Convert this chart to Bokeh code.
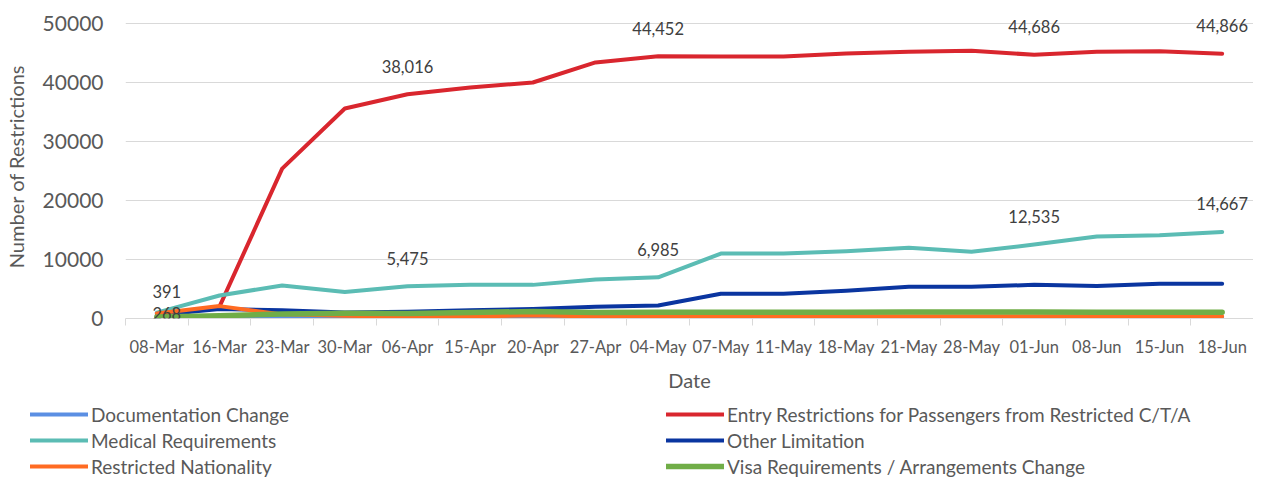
from bokeh.plotting import figure
from bokeh.layouts import column, row
from bokeh.models import Range1d, FixedTicker, Legend, LegendItem, ColumnDataSource, LabelSet, Label
from bokeh.core.properties import value
from bokeh.embed import file_html
from bokeh.resources import INLINE

dates = ["08-Mar", "16-Mar", "23-Mar", "30-Mar", "06-Apr", "15-Apr", "20-Apr", "27-Apr", "04-May",
         "07-May", "11-May", "18-May", "21-May", "28-May", "01-Jun", "08-Jun", "15-Jun", "18-Jun"]

documentation_change = [30, 60, 80, 80, 90, 90, 100, 100, 100, 100, 100, 100, 100, 100, 100, 100, 100, 100]
entry_restrictions = [391, 2000, 25400, 35600, 38016, 39150, 40000, 43400, 44452, 44400, 44400, 44900,
                      45200, 45400, 44686, 45200, 45300, 44866]
medical_requirements = [1000, 3900, 5600, 4500, 5475, 5700, 5700, 6600, 6985, 11000, 11000, 11400,
                        12000, 11300, 12535, 13900, 14100, 14667]
other_limitation = [600, 1600, 1400, 1000, 1150, 1400, 1600, 2000, 2200, 4200, 4200, 4700,
                    5400, 5400, 5700, 5500, 5900, 5900]
restricted_nationality = [850, 2100, 700, 450, 300, 350, 550, 350, 380, 380, 380, 380,
                          380, 380, 380, 380, 380, 380]
visa_requirements = [268, 450, 750, 900, 850, 1000, 1200, 1000, 1050, 1050, 1050, 1050,
                     1100, 1100, 1100, 1050, 1050, 1050]

series_names = ["Documentation Change", "Entry Restrictions for Passengers from Restricted C/T/A",
                "Medical Requirements", "Other Limitation", "Restricted Nationality",
                "Visa Requirements / Arrangements Change"]
series_values = [documentation_change, entry_restrictions, medical_requirements, other_limitation,
                 restricted_nationality, visa_requirements]
series_colors = ["#5B8FE3", "#D9262E", "#5BBCB4", "#0A35A0", "#FF6B22", "#70AD47"]
series_widths = [4, 4, 4, 4, 4, 5.5]

y_ticks = [0, 10000, 20000, 30000, 40000, 50000]

label_dates = [4, 8, 14, 17, 4, 8, 14, 17]
label_values = [38016, 44452, 44686, 44866, 5475, 6985, 12535, 14667]
label_texts = ["38,016", "44,452", "44,686", "44,866", "5,475", "6,985", "12,535", "14,667"]

FONT = "Lato"
GREY = "#595959"

x_idx = list(range(len(dates)))

p = figure(width=1253, height=396, x_range=Range1d(-0.5, len(dates) - 0.5), y_range=Range1d(0, 51525),
           output_backend="svg", toolbar_location=None,
           min_border_left=118, min_border_right=0, min_border_top=14, min_border_bottom=78)
p.outline_line_color = None
p.background_fill_color = "white"

for name, vals, col, w in zip(series_names, series_values, series_colors, series_widths):
    p.line(x_idx, vals, line_color=col, line_width=w, line_join="round", line_cap="round")

# x axis
xa = p.xaxis[0]
xa.ticker = FixedTicker(ticks=x_idx, minor_ticks=[i - 0.5 for i in range(len(dates) + 1)])
xa.major_label_overrides = {i: d for i, d in enumerate(dates)}
xa.axis_line_color = "#D9D9D9"
xa.major_tick_line_color = None
xa.major_tick_out = 0
xa.major_tick_in = 0
xa.minor_tick_line_color = "#D9D9D9"
xa.minor_tick_out = 7
xa.minor_tick_in = 0
xa.major_label_text_font = FONT
xa.major_label_text_font_size = "16.5px"
xa.major_label_text_color = GREY
xa.major_label_standoff = 11
xa.axis_label = "Date"
xa.axis_label_text_font = FONT
xa.axis_label_text_font_size = "20px"
xa.axis_label_text_font_style = "normal"
xa.axis_label_text_color = GREY
xa.axis_label_standoff = 8

ya = p.yaxis[0]
ya.ticker = FixedTicker(ticks=y_ticks)
ya.axis_line_color = None
ya.major_tick_line_color = None
ya.minor_tick_line_color = None
ya.major_tick_out = 0
ya.major_tick_in = 0
ya.major_label_text_font = FONT
ya.major_label_text_font_size = "21px"
ya.major_label_text_color = GREY
ya.major_label_standoff = 22
ya.axis_label = "Number of Restrictions"
ya.axis_label_text_font = FONT
ya.axis_label_text_font_size = "20px"
ya.axis_label_text_font_style = "normal"
ya.axis_label_text_color = GREY
ya.axis_label_standoff = 12

p.xgrid.grid_line_color = None
p.ygrid.grid_line_color = "#D9D9D9"
p.ygrid.grid_line_width = 1

src = ColumnDataSource(dict(x=label_dates, y=label_values, t=label_texts))
p.add_layout(LabelSet(x="x", y="y", text="t", source=src, y_offset=28, text_align="center",
                      text_baseline="middle", text_font=value(FONT), text_font_size=value("16.5px"),
                      text_color=value("#404040")))
p.add_layout(Label(x=0, y=entry_restrictions[0], text="391", x_offset=10, y_offset=25,
                   text_align="center", text_baseline="middle", text_font=FONT,
                   text_font_size="16.5px", text_color="#404040"))
p.add_layout(Label(x=0, y=visa_requirements[0], text="268", x_offset=10, y_offset=3,
                   text_align="center", text_baseline="middle", text_font=FONT,
                   text_font_size="16.5px", text_color="#404040"))

# legend figure (series drawn outside its visible range so only the legend shows)
lg = figure(width=1253, height=82, x_range=Range1d(-0.5, len(dates) - 0.5),
            y_range=Range1d(-20000, -10000), output_backend="svg", toolbar_location=None,
            x_axis_location=None, y_axis_location=None, min_border=0)
lg.grid.visible = False
lg.outline_line_color = None
items = []
for name, vals, col, w in zip(series_names, series_values, series_colors, series_widths):
    r = lg.line(x_idx, vals, line_color=col, line_width=w, line_cap="round")
    items.append(LegendItem(label=name, renderers=[r]))

legend = Legend(items=items, orientation="horizontal", ncols=2, location=(30, 0),
                glyph_width=58, glyph_height=24, label_height=24, label_standoff=3,
                label_width=573, spacing=2, padding=0, margin=0,
                label_text_font=FONT, label_text_font_size="19px", label_text_color=GREY,
                border_line_color=None, background_fill_alpha=0)
lg.add_layout(legend, "center")

layout = column(p, row(lg), spacing=0)
open("out.html", "w").write(file_html(layout, INLINE))
